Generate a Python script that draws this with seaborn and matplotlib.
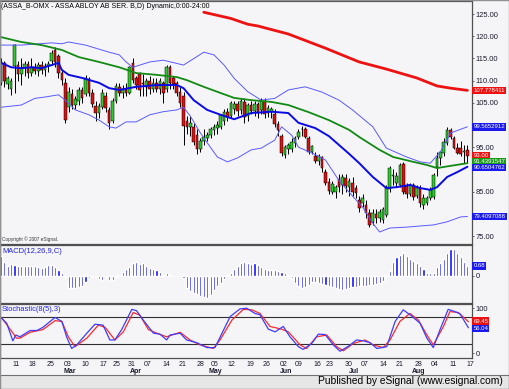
import numpy as np
import pandas as pd
import matplotlib
matplotlib.use("Agg")
import matplotlib.pyplot as plt
import matplotlib.transforms as mtransforms
from matplotlib.patches import Rectangle
import seaborn as sns

sns.set_style("white")
# Liberation Sans has the narrowest digits of the installed faces
plt.rcParams['font.family'] = ['Liberation Sans', 'DejaVu Sans']
FS_TICK, FS_BOX, FS_TITLE = 5.4, 4.3, 5.0

# ---------------- data ----------------
opens = [109.5, 114, 109.2, 108, 113.2, 113.5, 111.5, 112.8, 113.8, 111.8,
         113, 112.2, 113.5, 112.5, 113.2, 114.5, 117, 115.5, 111.7, 109.5,
         104, 107, 104.5, 105.5, 107.8, 107, 110.3, 107.2, 104.2, 102.8,
         104, 106.5, 103.4, 101, 105.3, 108.5, 107.2, 108, 107.3, 114,
         110.5, 111.5, 109.5, 108.5, 109.8, 108.2, 109.5, 108, 109.5, 108,
         113, 110.5, 109.5, 107.5, 106.5, 100.8, 99.6, 99.6, 97.7, 94.6,
         96.5, 97, 97.8, 98.8, 99.3, 99.5, 101, 103, 102, 103.5,
         104.8, 103.3, 105.2, 102, 104.5, 103.2, 104.8, 103.4, 105.5, 102.8,
         103, 102.5, 100.3, 97.5, 93.3, 94.5, 94.5, 96, 97.3, 99,
         99, 97, 94, 93, 91.8, 92.8, 89.5, 87.2, 85, 85,
         87.8, 86.5, 88, 86, 87, 85.8, 83.1, 82.4, 82, 80.2,
         78.2, 80, 79, 78.5, 79.8, 85.5, 88.5, 87, 86.5, 91.2,
         86.3, 84.5, 86.5, 84, 85.8, 82, 82.5, 83.6, 83.8, 90.5,
         92.5, 93.7, 96, 98.9, 97, 94.8, 94.8, 94, 94.4]
highs = [115, 114.5, 111, 110.5, 118.3, 114.5, 115, 114.5, 114.5, 115,
         114, 114.2, 114.5, 114, 114.5, 117, 117.5, 116, 112.5, 110.5,
         108.5, 108, 106.5, 108.5, 108.5, 111.3, 110.8, 108, 105.5, 105,
         108, 107.5, 104, 106, 109.5, 109.5, 109, 109.5, 113.2, 115,
         111, 112, 111.5, 110.5, 111, 110.5, 110.5, 110.5, 110, 113.5,
         113.5, 111, 110, 108.5, 107.5, 102, 102, 100.5, 99, 97,
         99, 98.5, 99.5, 100.2, 101, 102.5, 103.5, 103.8, 105.5, 105.5,
         105.5, 106, 106, 105, 105.5, 105.5, 105.2, 106, 106, 104.5,
         104, 103.5, 101, 98, 95.5, 96, 97, 97.5, 99, 99.8,
         99.5, 97.5, 95.5, 94, 93.5, 93, 90, 88, 87.5, 86.5,
         89, 89, 89, 88, 88.2, 86.5, 84, 84.5, 83, 81,
         81, 81, 81, 81.5, 86.5, 90.8, 90, 89.5, 91.5, 91.6,
         87, 87, 87, 86.5, 86.5, 84.5, 84, 86, 89.2, 94,
         94, 97, 99.5, 99.3, 97.5, 96, 96.5, 95.5, 95.5]
lows = [109, 108.5, 108, 106.8, 107.2, 110, 109, 111, 110.5, 111,
        111.5, 111, 111.5, 111, 112, 113.5, 113, 110.6, 109, 100.5,
        103, 103.5, 103.5, 104.5, 105, 106.5, 106.5, 104, 101, 101.5,
        103.5, 103, 99, 100.5, 105, 106.5, 106, 106.5, 107, 109.5,
        108, 106.5, 106.5, 106.5, 107, 107.5, 107.5, 107, 105, 107.5,
        108, 108, 106.5, 104, 95.5, 98, 97.5, 95.5, 93.5, 94,
        95.5, 96.5, 97, 97.8, 98, 99, 100, 101, 101.5, 102.5,
        102, 102.5, 100.5, 101, 102.5, 102, 101.5, 102.5, 101.5, 101.8,
        101.5, 99.5, 97.5, 93, 92.5, 93.5, 94, 95, 96.8, 97.5,
        97, 93.5, 93.5, 91.5, 91, 89.5, 86.5, 84.5, 84.5, 83.5,
        85, 84.5, 85, 84, 84, 83.5, 80.5, 81.5, 79, 77,
        77.5, 78, 78.2, 78, 79.3, 85, 86.5, 86, 86, 84.5,
        83.5, 84, 83, 83.5, 81.5, 81, 82, 83, 83.3, 88.5,
        91, 93, 95.5, 96.8, 94.5, 93.5, 93, 91.5, 91.5]
closes = [114.3, 109.8, 110.5, 110, 118, 111.5, 112.8, 113.8, 111.8, 113,
          112.2, 113.5, 112.5, 113.2, 113.8, 116.3, 114.2, 111.8, 110.2, 101.2,
          107.5, 104.5, 105.8, 107.8, 106, 110.5, 107.2, 104.8, 102.8, 104.3,
          107.2, 103.8, 100.5, 105.5, 108.8, 107.2, 108, 107.2, 113, 110.2,
          109, 107.8, 109.3, 109.8, 108.2, 109.5, 108, 109.8, 107.3, 113,
          109.5, 109.2, 107.2, 105, 99.8, 99.6, 100.5, 96.2, 94.5, 96.5,
          97.3, 97.8, 99, 99.5, 100, 102.2, 103, 101.7, 105, 104.8,
          103.2, 105.3, 101.8, 104.5, 103.2, 104.8, 102.8, 105.3, 102.5, 103.8,
          103.5, 100.2, 98.9, 93.8, 95, 95.5, 96.2, 97, 98.4, 99,
          97.3, 94, 95.2, 91.8, 93, 90.3, 87, 85.2, 86.8, 86,
          86, 88.3, 86.3, 87.3, 85, 84.7, 81.3, 83.5, 80.2, 77.5,
          80.2, 79, 80.5, 81, 85.8, 90.3, 88.7, 88.5, 91, 85,
          84.5, 86.5, 83.8, 85.8, 82.4, 83.5, 83.5, 85.4, 88.7, 92.6,
          93.9, 96.2, 98.9, 97.3, 94.8, 93.7, 93.5, 94.1, 93]

ma_green_days = [0, 6, 12, 18, 23, 29, 35, 40, 46, 52, 55, 60, 65, 69,
                 74, 80, 85, 91, 97, 103, 106, 112, 116, 122, 126, 129, 133, 138]
ma_green = [119.8, 118.7, 118, 116.9, 115.3, 114.2, 113, 111.7, 111.3, 110.8,
            110.1, 108.6, 107.2, 106.1, 105.6, 105.2, 104.5, 102.9, 101.1, 98.9,
            97.3, 94.4, 92.8, 91.7, 91, 90.3, 90.8, 91.4]

bb_mid_days = [0, 3, 6, 9, 12, 15, 17, 18, 20, 24, 29, 32, 35, 40, 46, 52, 54, 57,
               61, 65, 69, 74, 80, 85, 88, 93, 97, 100, 103, 106, 110, 114, 117,
               121, 124, 127, 129, 132, 135, 138]
bb_mid = [114, 113, 112.8, 113, 112.8, 113.5, 114, 112.4, 111.3, 110.6,
          109.5, 108.3, 107.9, 108.6, 109, 109, 108.3, 105.6, 103.4, 102.3,
          101.3, 102.7, 103, 102.7, 100.5, 99.3, 97.5, 95.5, 93.5, 91.4,
          88.3, 85.8, 86, 86.5, 85.8, 85.4, 86, 88.3, 89.4, 90.6]

bb_up_days = [0, 6, 15, 18, 20, 25, 32, 35, 37, 39, 44, 48, 54, 60, 63, 66,
              69, 73, 77, 81, 85, 90, 95, 100, 104, 110, 114, 120, 124, 127,
              130, 133, 138]
bb_up = [118, 118, 118.5, 118.3, 118.7, 118, 116.4, 115.8, 114.2,
         113, 114.2, 114.6, 113.5, 116.4, 115.8, 113.5, 110.5, 107.5, 105.6,
         106, 107.9, 108.6, 107.4, 105.6, 103.4, 99.6, 94.8, 92.8, 91.7,
         91.4, 94, 98.2, 99.6]

bb_low_days = [0, 6, 10, 13, 17, 19, 22, 26, 29, 32, 34, 37, 40, 44, 48, 52, 54,
               56, 59, 61, 64, 67, 70, 74, 77, 81, 83, 86, 88, 92, 96, 100, 104,
               107, 110, 112, 115, 120, 128, 132, 136, 138]
bb_low = [104, 104.5, 106, 106.3, 106.8, 105.6, 103.4, 102.3, 101.1, 99.6,
          99.3, 100.7, 100.7, 102.3, 103, 103.4, 104, 102, 98.2, 96,
          92.8, 91.7, 92.6, 94.4, 94.8, 96.6, 99.6, 97.7, 95, 93.7,
          92.1, 87.5, 84, 81.5, 77.9, 75.9, 76.8, 77, 77.5, 78.2,
          79.3, 79.4]

ma_red_days = [60, 68, 73, 76, 85, 96, 106, 114, 123, 129, 133, 138]
ma_red = [125.4, 124, 122.7, 122.3, 120.5, 117.3, 114.2, 112.6, 110.6, 108.8,
          108.3, 107.8]

macd_hist = [1.36, 0.97, 0.7, 0.85, 0.75, 0.68, 0.68, 0.68, 0.68, 0.68,
             0.68, 0.6, 0.52, 0.63, 0.75, 0.75, 0.6, 0.41, 0.23, -0.05,
             -0.84, -0.84, -0.84, -0.78, -0.65, -0.4, -0.15, -0.05, -0.1, -0.2,
             -0.27, -0.05, -0.27, -0.27, -0.05, 0.1, 0.3, 0.45, 0.6, 0.86,
             0.98, 0.8, 0.86, 0.65, 0.55, 0.45, 0.41, 0.25, 0.05, 0.18,
             0.05, 0.02, 0.02, 0.02, -0.16, -0.8, -1.0, -1.15, -1.25, -1.35,
             -1.45, -1.52, -1.3, -0.95, -0.65, -0.45, -0.2, 0.05, 0.2, 0.45,
             0.65, 0.9, 0.95, 0.9, 0.8, 0.86, 0.78, 0.6, 0.5, 0.41,
             0.41, 0.38, 0.34, 0.3, 0.23, 0.08, -0.14, -0.45, -0.68, -0.8,
             -0.75, -0.6, -0.4, -0.39, -0.45, -0.58, -0.62, -0.7, -0.78, -0.85,
             -0.9, -0.95, -0.88, -0.82, -0.78, -0.74, -0.7, -0.66, -0.66, -0.6,
             -0.6, -0.55, -0.48, -0.35, 0.05, 0.35, 0.98, 1.3, 1.43, 1.59,
             1.38, 1.15, 1.0, 0.88, 0.7, 0.45, 0.23, 0.18, 0.23, 0.6,
             0.9, 1.14, 1.55, 1.82, 1.82, 1.55, 1.27, 0.93, 0.68]

stoch_k_days = [0.2, 1.7, 3.5, 4.4, 5.6, 8.6, 10.6, 12.4, 14.5, 16,
                18, 19.4, 20.9, 22.4, 25.4, 27.8, 30.2, 32.2, 33.7, 35.7,
                38.7, 40.1, 42.1, 45.1, 47, 49, 50, 53, 54.9, 57.9,
                60.9, 63.3, 67.8, 70.7, 72.7, 75.1, 76.6, 79.1, 81.1, 83.5,
                85.5, 88, 89.4, 91.9, 93.9, 95.9, 98.3, 100.3, 102.8, 105.2,
                107.2, 109.2, 111.2, 114.1, 116.6, 119, 121.5, 124, 126, 127.9,
                129.9, 132.3, 134.3, 135.8, 138.3]
stoch_k = [77, 66, 27, 40, 36, 50, 50, 57, 70, 79,
           70, 36, 10, 18, 44, 64, 62, 29, 29, 52,
           97, 94, 73, 44, 42, 29, 40, 44, 29, 23,
           12, 12, 81, 98, 99.6, 88, 85, 53, 47, 59,
           36, 14, 8, 21, 42, 41, 18, 4, 15, 29,
           27, 23, 10, 14, 70, 96, 82, 66, 33, 12,
           52, 97, 92, 87, 56.04]
stoch_d_days = [0.2, 2.2, 4.6, 5.6, 8.6, 12.4, 16, 18, 19.9, 21.9,
                25.4, 28.8, 30.8, 33.7, 36.2, 39.1, 41.1, 43.6, 46.1, 49,
                53, 55.9, 58.9, 62.8, 64.8, 68.3, 71.7, 74.2, 76.6, 79.6,
                83, 85, 88.5, 90.4, 93.4, 96.4, 99.3, 101.3, 104.2, 107.7,
                110.1, 113.1, 115.1, 118, 121, 123.5, 126, 127.9, 130.9, 132.8,
                135.3, 138.3]
stoch_d = [78, 58, 33, 33, 46, 52, 72, 70, 36, 14,
           33, 62, 57, 29, 47, 90, 84, 52, 44, 36,
           46, 29, 18, 10, 29, 73, 97, 96, 88, 59,
           53, 47, 18, 10, 36, 40, 14, 5, 21, 29,
           18, 12, 29, 70, 88, 73, 40, 18, 59, 92,
           90, 69.45]

tick_pos = [4.4, 9.2, 14.8, 19.8, 24.9, 30.2, 34.3, 38.5, 43.5, 48.8, 53.6, 58.9,
            63.3, 68.3, 73.7, 78.7, 83.7, 88.2, 93.5, 97.3, 102.7, 107.7, 113,
            118, 123.4, 128.4, 133.7, 139]
tick_lbl = ["11", "18", "25", "03", "10", "17", "25", "31", "07", "14", "21", "28",
            "05", "12", "19", "26", "02", "09", "16", "23", "30", "07", "14",
            "21", "28", "04", "11", "17"]
month_pos = [20.4, 40, 63.3, 84.3, 104.4, 123.4]
month_lbl = ["Mar", "Apr", "May", "Jun", "Jul", "Aug"]

# ---------------- style ----------------
BG = '#f5f5f8'
SPINE = '#505050'
TXT = '#1a1a2a'
GREEN_C = '#2ccc2c'
RED_C = '#dd1010'

W, H = 509, 389


def rect(l, t, r, b):
    return [l / W, 1 - b / H, (r - l) / W, (b - t) / H]


fig = plt.figure(figsize=(W / 100, H / 100), dpi=100)
fig.patch.set_facecolor(BG)

ax = fig.add_axes(rect(0, 1, 472, 244))
am = fig.add_axes(rect(0, 245, 472, 303), sharex=ax)
ast = fig.add_axes(rect(0, 304, 472, 358), sharex=ax)

for a in (ax, am, ast):
    a.set_facecolor(BG)
    for s in a.spines.values():
        s.set_color(SPINE)
        s.set_linewidth(0.9)
    a.yaxis.tick_right()
    a.tick_params(axis='y', length=1.5, width=0.6, colors=SPINE, labelsize=FS_TICK,
                  labelcolor=TXT, pad=1)
    a.tick_params(axis='x', length=2, width=0.6, colors=SPINE)

ax.set_xlim(-0.3, 139.35)

# ---------------- main price panel ----------------
days = np.arange(len(closes))
o = np.array(opens)
c = np.array(closes)
up = c >= o
ax.vlines(days, lows, highs, color='black', linewidth=0.7, zorder=3)
body_lo = np.minimum(o, c)
body_h = np.maximum(np.abs(c - o), 0.12)
ax.bar(days, body_h, bottom=body_lo, width=0.78,
       color=np.where(up, GREEN_C, RED_C), edgecolor='black', linewidth=0.35, zorder=4)

line_sets = [
    (bb_up_days, bb_up, '#5a5aff', 0.7),
    (bb_low_days, bb_low, '#5a5aff', 0.7),
    (ma_green_days, ma_green, '#138a13', 1.3),
    (bb_mid_days, bb_mid, '#0a0ae6', 1.4),
    (ma_red_days, ma_red, '#ee1111', 2.0),
]
for dd, vv, col, lw in line_sets:
    df = pd.DataFrame({'day': dd, 'value': vv})
    sns.lineplot(data=df, x='day', y='value', ax=ax, color=col, linewidth=lw,
                 estimator=None, legend=False, zorder=5)

ax.set_ylim(73.2, 127.93)
# 80, 90 and 100 sit under the value boxes in the original
price_ticks = [75, 85, 95, 105, 110, 115, 120, 125]
ax.set_yticks(price_ticks)
ax.set_yticklabels([f"{v:.2f}" for v in price_ticks])
ax.set_xlabel('')
ax.set_ylabel('')
ax.tick_params(axis='x', labelbottom=False, length=0)

ax.text(0.002, 0.992, "(ASSA_B-OMX - ASSA ABLOY AB SER. B,D) Dynamic,0:00-24:00",
        transform=ax.transAxes, ha='left', va='top', fontsize=FS_TITLE, color='black')
ax.text(0.004, 0.008, "Copyright \u00a9 2007 eSignal.", transform=ax.transAxes,
        ha='left', va='bottom', fontsize=3.4, color='#333333')


def value_box(a, val, text, fc, fg='white'):
    a.annotate(text, xy=(1, val), xycoords=('axes fraction', 'data'),
               xytext=(1.0, 0), textcoords='offset points', ha='left', va='center',
               fontsize=FS_BOX, color=fg, annotation_clip=False, zorder=20,
               bbox=dict(boxstyle='square,pad=0.2', fc=fc, ec='none'))


value_box(ax, 107.78, "107.778411", '#ee1111')
value_box(ax, 99.57, "99.5652912", '#1a1aee')
value_box(ax, 93.1, "93.00", '#ee1111')
value_box(ax, 91.75, "91.4391547", '#1a9a1a')
value_box(ax, 90.4, "90.6504762", '#1a1aee')
value_box(ax, 79.41, "79.4097088", '#1a1aee')

# ---------------- MACD panel ----------------
am.bar(np.arange(len(macd_hist)), macd_hist, width=0.62, color='#1010ff', zorder=3)
am.set_ylim(-1.84, 2.11)
am.set_yticks([0])
am.set_yticklabels(["0"])
am.tick_params(axis='x', labelbottom=False, length=0)
am.text(0.004, 0.95, "MACD(12,26,9,C)", transform=am.transAxes, ha='left', va='top',
        fontsize=FS_TICK, color='#2020dd')
value_box(am, 0.68, "0.68", '#1a1aee')

# ---------------- Stochastic panel ----------------
ast.axhline(80, color='#303030', linewidth=0.8, zorder=2)
ast.axhline(20, color='#303030', linewidth=0.8, zorder=2)
dk = pd.DataFrame({'day': stoch_k_days, 'value': stoch_k})
dd_ = pd.DataFrame({'day': stoch_d_days, 'value': stoch_d})
sns.lineplot(data=dd_, x='day', y='value', ax=ast, color='#ff2a2a', linewidth=0.9,
             estimator=None, legend=False, zorder=4)
sns.lineplot(data=dk, x='day', y='value', ax=ast, color='#3d3dff', linewidth=0.9,
             estimator=None, legend=False, zorder=5)
ast.set_ylim(-11.1, 108.9)
ast.set_yticks([0, 100])
ast.set_yticklabels(["0", "100"])
ast.set_xlabel('')
ast.set_ylabel('')
ast.text(0.004, 0.96, "Stochastic(8(5),3)", transform=ast.transAxes, ha='left', va='top',
         fontsize=FS_TICK, color='#2020dd')
value_box(ast, 71, "69.45", '#ee1111')
value_box(ast, 55, "56.04", '#1a1aee')

ast.set_xticks(tick_pos)
ast.set_xticklabels(tick_lbl, fontsize=5.0, color=TXT)
ast.tick_params(axis='x', length=1.5, pad=0.5)

trans = mtransforms.blended_transform_factory(ast.transData, fig.transFigure)
for mp, ml in zip(month_pos, month_lbl):
    ast.text(mp, 1 - 371.5 / H, ml, transform=trans, ha='center', va='center',
             fontsize=5.0, fontweight='bold', color=TXT, clip_on=False)

# ---------------- footer ----------------
fig.patches.append(Rectangle((0, 0), 1, 14 / H, transform=fig.transFigure,
                             facecolor='#e6e6e6', edgecolor='#707070', linewidth=0.8))
fig.text(503 / W, 1 - 381.5 / H, "Published by eSignal (www.esignal.com)", ha='right',
         va='center', fontsize=7.4, color='black')
fig.patches.append(Rectangle((0, 0), 1, 1, transform=fig.transFigure, fill=False,
                             edgecolor='#909090', linewidth=1.0))

fig.savefig("out.png", dpi=100, facecolor=BG)
